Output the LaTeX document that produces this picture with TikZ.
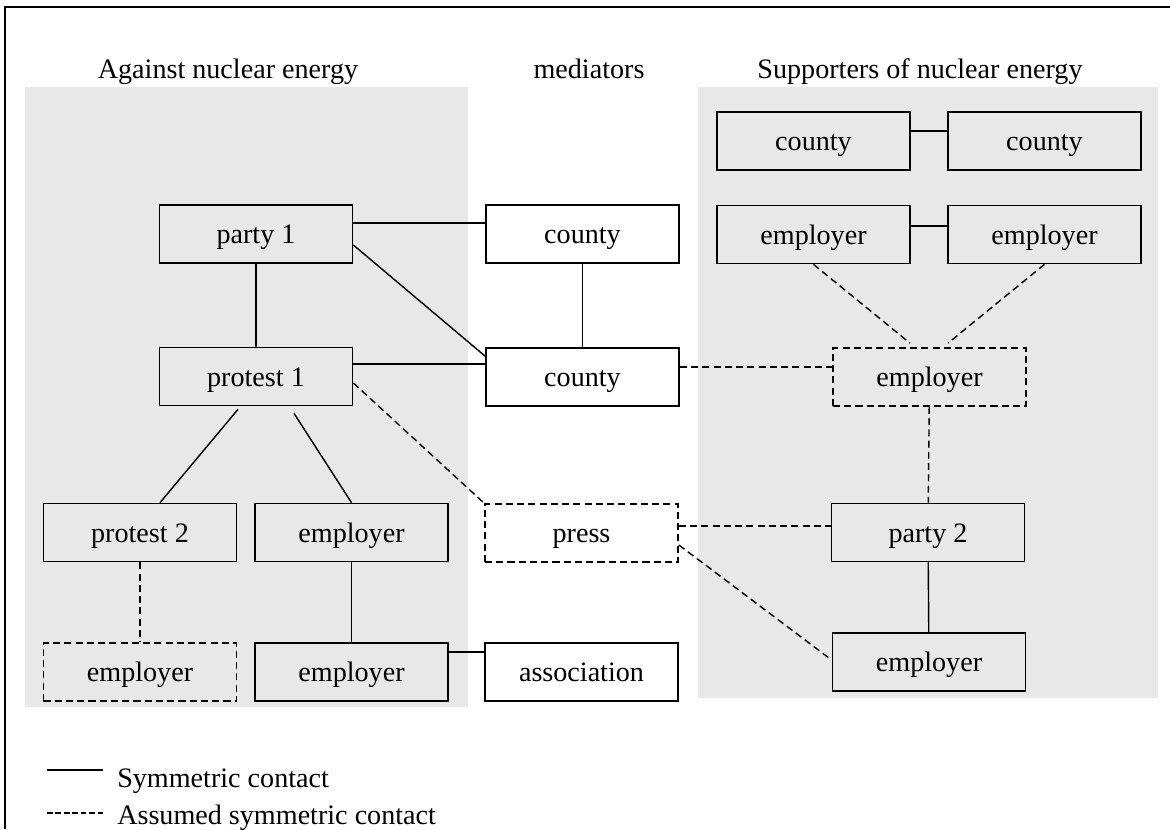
\documentclass[tikz,border=0pt]{standalone}
\usepackage{fontspec}
\setmainfont{Liberation Serif}
\usetikzlibrary{calc}
\definecolor{sidegray}{RGB}{232,232,232}

\begin{document}
\begin{tikzpicture}[
	x=0.025cm, y=-0.025cm,
	every node/.style={font=\fontsize{20}{24}\selectfont},
	box/.style={draw, line width=1.2pt, minimum width=4.825cm, minimum height=1.45cm, inner sep=0pt, text height=13.6pt, text depth=0pt},
	dashedbox/.style={box, dash pattern=on 5pt off 3pt},
	contact/.style={line width=1pt},
	assumed/.style={line width=1pt, dash pattern=on 5pt off 3pt},
]
	\useasboundingbox (0,0) rectangle (1170,829);

	% background areas and frame
	\fill [sidegray] (25,87) rectangle (468,707);
	\fill [sidegray] (698,87) rectangle (1158,698);
	\draw [line width=1.1pt] (5,829) -- (5,7) -- (1170,7);

	% headings
	\node [anchor=base] (against) at (228,78) {Against nuclear energy};
	\node [anchor=base] (mediators) at (589,78) {mediators};
	\node [anchor=base] (supporters) at (920,78) {Supporters of nuclear energy};

	% against
	\node [box] (party1) at (256,234) {party 1};
	\node [box] (protest1) at (256,376.5) {protest 1};
	\node [box] (protest2) at (140,532.5) {protest 2};
	\node [box] (emplA) at (351.5,532.5) {employer};
	\node [dashedbox] (emplB) at (140,672) {employer};
	\node [box] (emplC) at (351.5,672) {employer};

	% mediators
	\node [box] (countyA) at (582.5,234) {county};
	\node [box] (countyB) at (582.5,377) {county};
	\node [dashedbox] (press) at (581.5,533) {press};
	\node [box] (assoc) at (581.5,672) {association};

	% supporters
	\node [box] (countyR1) at (813.5,141) {county};
	\node [box] (countyR2) at (1044.5,141) {county};
	\node [box] (emplR1) at (813.5,234.5) {employer};
	\node [box] (emplR2) at (1044.5,234.5) {employer};
	\node [dashedbox] (emplR3) at (929.5,377) {employer};
	\node [box] (party2) at (928,532.5) {party 2};
	\node [box] (emplR4) at (929,662) {employer};

	\draw [contact] ($(party1.east)+(0,-11)$) -- ($(countyA.west)+(0,-11)$);
	\draw [contact] ($(party1.east)+(0,11)$) -- ($(countyB.north west)+(0,9)$);
	\draw [contact] (countyA) -- (countyB);
	\draw [contact] (party1) -- (protest1);
	\draw [contact] ($(protest1.east)+(0,-12.5)$) -- ($(countyB.west)+(0,-13)$);
	\draw [assumed] ($(countyB.east)+(0,-10)$) -- ($(emplR3.west)+(0,-10)$);
	\draw [contact] ($(protest1.south)+(-18,3)$) -- ($(protest2.north)+(20,0)$);
	\draw [contact] ($(protest1.south)+(38,7)$) -- (emplA.north);
	\draw [assumed] ($(protest1.east)+(0,6.5)$) -- (press.north west);
	\draw [assumed] (protest2) -- (emplB);
	\draw [contact] (emplA) -- (emplC);
	\draw [contact] ($(emplC.east)+(0,-20)$) -- ($(assoc.west)+(0,-20)$);

	\draw [contact] ($(countyR1.east)+(0,-10)$) -- ($(countyR2.west)+(0,-10)$);
	\draw [contact] ($(emplR1.east)+(0,-8.5)$) -- ($(emplR2.west)+(0,-8.5)$);
	\draw [assumed] (emplR1.south) -- ($(emplR3.north)+(-19.5,-4)$);
	\draw [assumed] (emplR2.south) -- ($(emplR3.north)+(18.5,-4)$);
	\draw [assumed] (emplR3) -- (party2);
	\draw [assumed] ($(press.east)+(0,-7)$) -- ($(party2.west)+(0,-6.5)$);
	\draw [assumed] ($(press.east)+(0,12)$) -- ($(emplR4.west)+(0,-2)$);
	\draw [contact] (party2) -- (emplR4);

	% legend
	\coordinate (solidA) at (47,770);
	\coordinate (solidB) at (103,770);
	\coordinate (dashA) at (47,813);
	\coordinate (dashB) at (103,813);
	\draw [contact] (solidA) -- (solidB);
	\draw [line width=1pt, dash pattern=on 4pt off 2pt] (dashA) -- (dashB);
	\node [anchor=base west, inner sep=0pt] (symm) at (117,787) {Symmetric contact};
	\node [anchor=base west, inner sep=0pt] (assm) at (117,824) {Assumed symmetric contact};
\end{tikzpicture}
\end{document}
